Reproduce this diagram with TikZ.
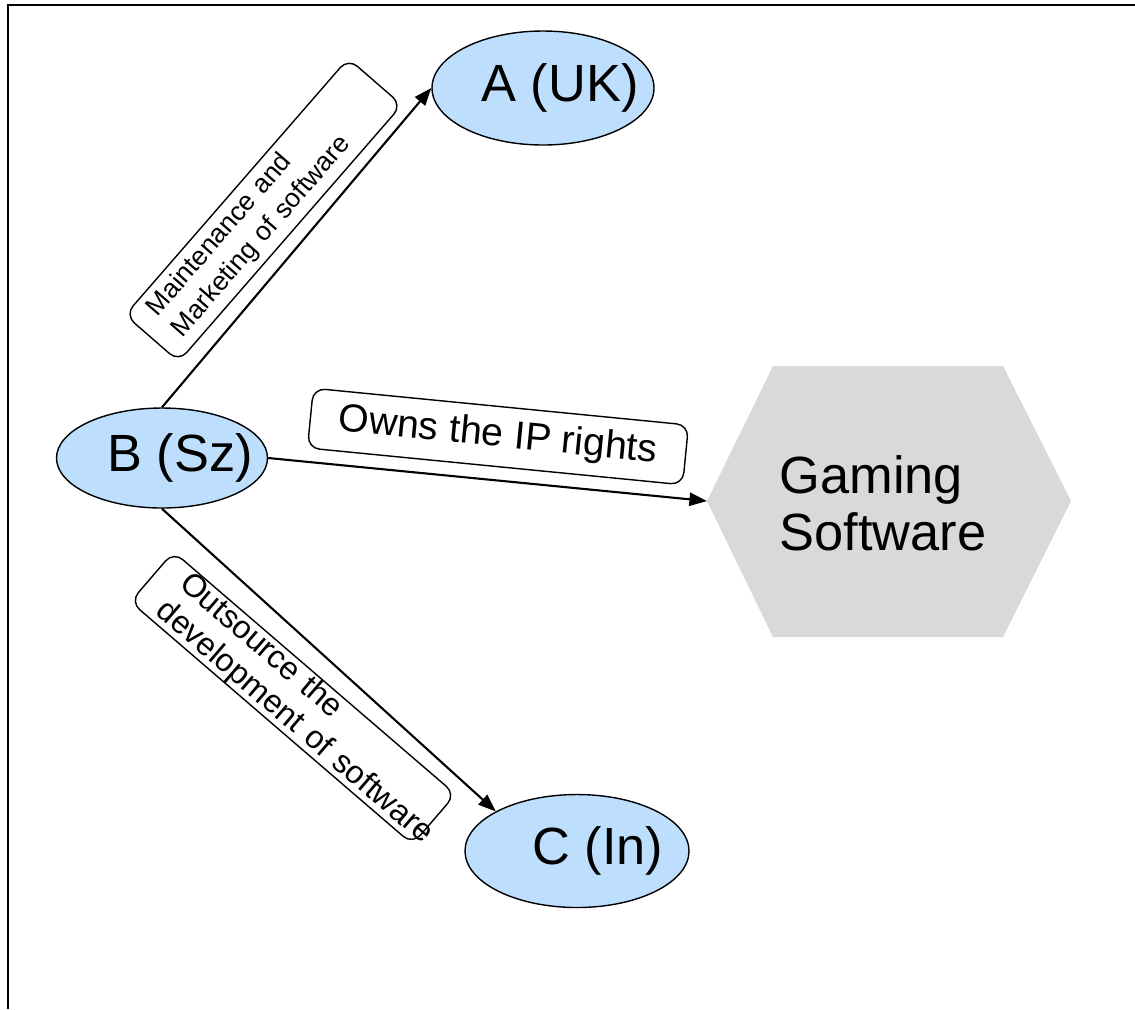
\documentclass[tikz,border=0pt]{standalone}
\usepackage{fontspec}
\setmainfont{Liberation Sans}
\usetikzlibrary{shapes.geometric, arrows.meta}
\definecolor{partyBlue}{HTML}{BDDFFD}
\definecolor{assetGrey}{HTML}{D9D9D9}
\newlength\pxu
\setlength\pxu{0.02cm}
\tikzset{
    party/.style={ellipse, draw, fill=partyBlue, line width=0.8pt, inner sep=0pt},
    tagbox/.style={draw, fill=white, rounded corners=12\pxu, line width=0.8pt, inner ysep=0pt},
    flow/.style={-{Triangle[length=10pt,width=7.5pt]}, line width=1.2pt},
    bigtext/.style={font=\fontsize{29.8pt}{32.5pt}\selectfont},
}

\begin{document}
\begin{tikzpicture}[x=0.02cm, y=-0.02cm]
    \useasboundingbox (0,0) rectangle (1135,1009);
    \draw[line width=1.4pt] (8,1009) -- (8,5) -- (1135,5);
    \node[party, minimum width=222\pxu, minimum height=114\pxu,
        label={[bigtext, xshift=17\pxu]center:{A (UK)}}] (a) at (543,88) {};
    \node[party, minimum width=211\pxu, minimum height=100\pxu,
        label={[bigtext, xshift=18\pxu]center:{B (Sz)}}] (b) at (162,458) {};
    \node[party, minimum width=224\pxu, minimum height=113\pxu,
        label={[bigtext, xshift=21\pxu]center:{C (In)}}] (c) at (577,851) {};
    \coordinate (hexW) at (707,501);
    \fill[assetGrey] (hexW) -- (773,366) -- (1003,366) -- (1071,501)
        -- (1003,637) -- (773,637) -- cycle;
    \node[bigtext, align=left] (gs) at (883,503) {Gaming\\Software};
    \draw[flow] (b.north) -- (a.west);
    \draw[flow] (b.east) -- (hexW);
    \draw[flow] (b.south) -- (c.154);
    \node[tagbox, rotate=49, minimum width=340\pxu, minimum height=71\pxu,
        text width=300\pxu, inner xsep=20\pxu, align=left,
        font=\fontsize{15.1pt}{18.6pt}\selectfont] (mm) at (263.5,210)
        {Maintenance and\\Marketing of software};
    \node[tagbox, rotate=-40.7, minimum width=372\pxu, minimum height=64\pxu,
        text width=320\pxu, inner xsep=26\pxu, align=left,
        font=\fontsize{18.3pt}{20.5pt}\selectfont] (os) at (293,698)
        {Outsource the\\\mbox{development of software}};
    \node[tagbox, rotate=-5.6, minimum width=377\pxu, minimum height=60\pxu,
        font=\fontsize{22.3pt}{24pt}\selectfont] (ip) at (498,436.5)
        {Owns the IP rights};
\end{tikzpicture}
\end{document}
